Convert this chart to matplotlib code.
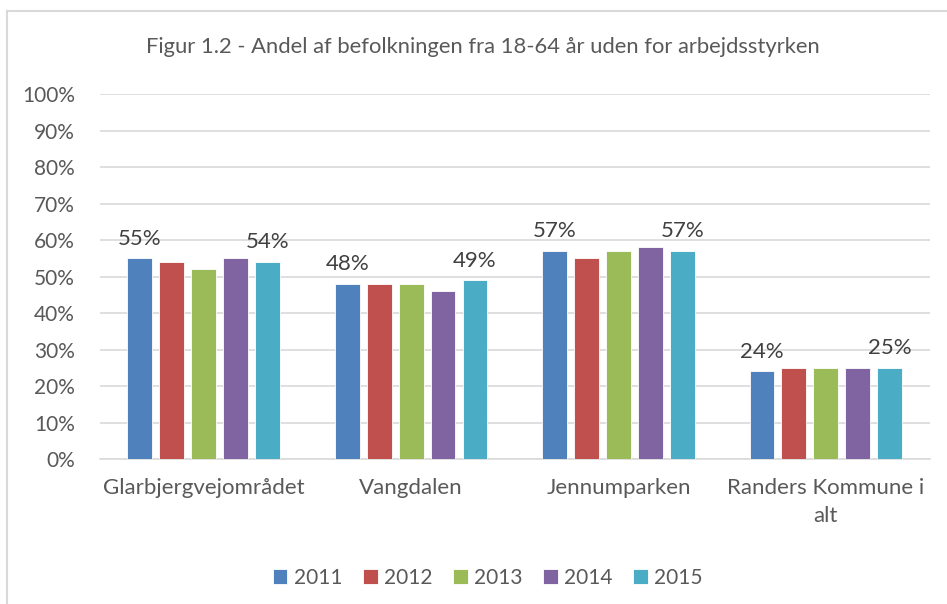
import matplotlib.pyplot as plt
import numpy as np
from matplotlib.lines import Line2D

plt.rcParams['font.family'] = ['Lato', 'DejaVu Sans']

omraader = ["Glarbjergvejområdet", "Vangdalen", "Jennumparken", "Randers Kommune i\nalt"]
aar = ["2011", "2012", "2013", "2014", "2015"]

andel = {
    "2011": [55, 48, 57, 24],
    "2012": [54, 48, 55, 25],
    "2013": [52, 48, 57, 25],
    "2014": [55, 46, 58, 25],
    "2015": [54, 49, 57, 25],
}

colors = ['#4F81BD', '#C0504D', '#9BBB59', '#8064A2', '#4BACC6']
txt = '#595959'

fig = plt.figure(figsize=(9.47, 6.04), dpi=100)
ax = fig.add_axes([0.1056, 0.240, 0.876, 0.604])

x = np.arange(len(omraader))
width = 0.12
step = 0.154

for i, a in enumerate(aar):
    pos = x + (i - 2) * step
    ax.bar(pos, andel[a], width, color=colors[i], label=a, zorder=3,
           edgecolor='white', linewidth=0.6)
    if a in ("2011", "2015"):
        for p, v in zip(pos, andel[a]):
            ax.annotate(f"{v}%", (p, v), xytext=(0, 7), textcoords='offset points',
                        ha='center', va='bottom', fontsize=16, color='#404040')

ax.set_xlim(-0.5, len(omraader) - 0.5)
ax.set_ylim(0, 100)
ax.set_yticks(np.arange(0, 101, 10))
ax.set_yticklabels([f"{t}%" for t in range(0, 101, 10)])
ax.set_xticks(x)
ax.set_xticklabels(omraader, fontsize=16, linespacing=1.5)
ax.tick_params(axis='both', length=0, colors=txt)
ax.tick_params(axis='y', pad=18, labelsize=15)
ax.tick_params(axis='x', pad=14)
ax.yaxis.grid(True, color='#D9D9D9', linewidth=1.2, zorder=0)
for s in ['top', 'right', 'left']:
    ax.spines[s].set_visible(False)
ax.spines['bottom'].set_color('#D9D9D9')
ax.spines['bottom'].set_linewidth(1.2)

fig.text(0.51, 0.923, "Figur 1.2 - Andel af befolkningen fra 18-64 år uden for arbejdsstyrken",
         ha='center', va='center', fontsize=15.8, color=txt)

leg = ax.legend(loc='center', bbox_to_anchor=(0.4675, -0.325), ncol=5, frameon=False,
                fontsize=15, handlelength=0.7, handleheight=0.7, handletextpad=0.3,
                columnspacing=1.0)
for t in leg.get_texts():
    t.set_color(txt)

# chart border
fig.add_artist(Line2D([0.0074, 1.0], [1 - 11 / 604, 1 - 11 / 604], color='#D9D9D9', linewidth=1.5,
                      transform=fig.transFigure))
fig.add_artist(Line2D([0.0074, 0.0074], [0, 1 - 11 / 604], color='#D9D9D9', linewidth=1.5,
                      transform=fig.transFigure))

fig.savefig("out.png", dpi=100)
